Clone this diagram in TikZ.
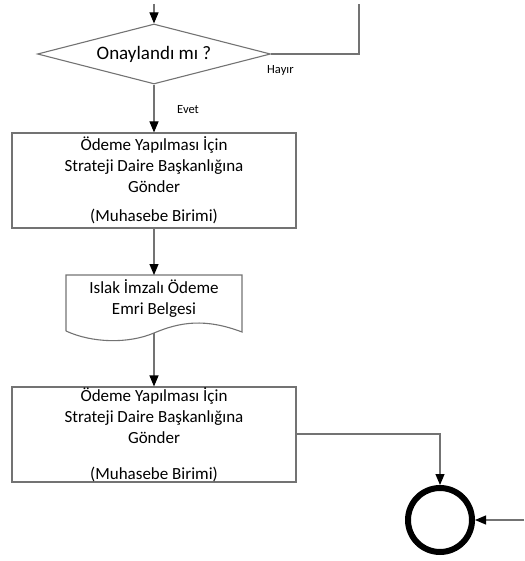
\documentclass[tikz,border=0pt]{standalone}
\usepackage{fontspec}
\setmainfont{Carlito}
\usetikzlibrary{arrows.meta, shapes.geometric}

\tikzset{
  akis/.style={draw=gray!90!black, line width=1.1pt, -{Triangle[length=11pt, width=9pt, black]}},
  cizgi/.style={draw=gray!90!black, line width=1.1pt},
  kutu/.style={draw=gray!90!black, line width=1.1pt, rectangle, minimum width=284pt, minimum height=95pt,
    align=center, font=\fontsize{17}{21}\selectfont, inner sep=0pt},
  karar/.style={draw=gray!90!black, line width=1.1pt, diamond, aspect=3.9, minimum width=233pt,
    minimum height=60pt, inner sep=0pt, font=\fontsize{19}{23}\selectfont},
  etiket/.style={font=\fontsize{12.5}{14}\selectfont, inner sep=0pt}
}

\begin{document}
\begin{tikzpicture}[x=1pt, y=-1pt]
  \useasboundingbox (0,0) rectangle (524,561);

  % Draw decision.
  \coordinate (ust) at (154,4);
  \coordinate (donus) at (359,4);
  \node[karar] (onay) at (154,54) {Onaylandı mı ?};
  \draw[akis] (ust) -- (onay.north);
  \draw[cizgi] (onay.east) -| (donus);
  \node[etiket, anchor=west] (hayir) at (267,70) {Hayır};

  % Draw first process box.
  \node[kutu] (gonder1) at (154,180.5)
    {Ödeme Yapılması İçin\\Strateji Daire Başkanlığına\\Gönder\\[8pt](Muhasebe Birimi)};
  \draw[akis] (onay.south) -- (gonder1.north);
  \node[etiket, anchor=west] (evet) at (177,110) {Evet};

  % Draw document.
  \node[inner sep=0pt, align=center, font=\fontsize{17}{21}\selectfont] (belge) at (154,299)
    {Islak İmzalı Ödeme\\Emri Belgesi};
  \coordinate (b1) at (66,275);
  \coordinate (b2) at (242,275);
  \coordinate (b3) at (242,332);
  \coordinate (b4) at (66,331);
  \coordinate (balt) at (154,333);
  \draw[cizgi] (b4) -- (b1) -- (b2) -- (b3)
    .. controls (205,318) and (180,322) .. (balt)
    .. controls (128,344) and (92,343) .. (b4);
  \draw[akis] (gonder1.south) -- (b1 -| gonder1.south);

  % Draw second process box.
  \node[kutu, inner ysep=-6pt] (gonder2) at (154,434.5)
    {Ödeme Yapılması İçin\\Strateji Daire Başkanlığına\\Gönder\\[15pt](Muhasebe Birimi)};
  \draw[akis] (balt) -- (gonder2.north);

  % Draw end.
  \node[circle, draw=black, line width=6pt, minimum size=64pt, inner sep=0pt] (son) at (440,520) {};
  \coordinate (sag) at (524,520);
  \draw[akis] (gonder2.east |- 0,434) -| (son.north);
  \draw[akis] (sag) -- (son.east);
\end{tikzpicture}
\end{document}
